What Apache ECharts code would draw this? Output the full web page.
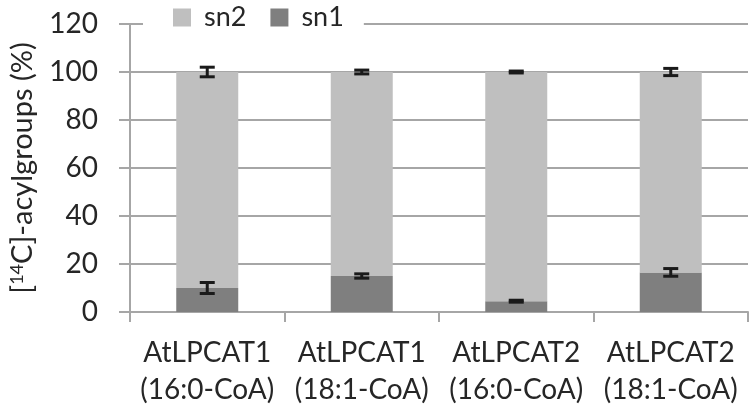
<!DOCTYPE html>
<html><head><meta charset="utf-8">
<script src="https://cdn.jsdelivr.net/npm/echarts@6/dist/echarts.min.js"></script>
<style>html,body{margin:0;padding:0;background:#fff}#c{width:750px;height:412px}</style>
</head><body><div id="c"></div>
<script>
var categories = ['AtLPCAT1\n(16:0-CoA)', 'AtLPCAT1\n(18:1-CoA)', 'AtLPCAT2\n(16:0-CoA)', 'AtLPCAT2\n(18:1-CoA)'];
var sn1 = [10, 15, 4.5, 16.5];
var sn2 = [90, 85, 95.5, 83.5];
var sn1Err = [2.3, 0.9, 0.4, 1.6];
var sn2Err = [2.0, 0.8, 0.4, 1.5];
var yTicks = [0, 20, 40, 60, 80, 100, 120];

var FONT = 'Lato';
var TXT = '#262626';
var FS = 28;
var errData = [];
for (var i = 0; i < categories.length; i++) {
  errData.push([i, sn1[i], sn1Err[i]]);
  errData.push([i, sn1[i] + sn2[i], sn2Err[i]]);
}
var chart = echarts.init(document.getElementById('c'));
chart.setOption({
  animation: false,
  textStyle: {fontFamily: FONT},
  grid: {left: 125, right: 2, top: 24, bottom: 100, containLabel: false},
  legend: {
    data: ['sn2', 'sn1'], left: 143, top: 2, itemWidth: 18, itemHeight: 18, itemGap: 24,
    backgroundColor: '#fff', padding: [2, 20, 2, 30],
    textStyle: {fontSize: 27, color: TXT, fontFamily: FONT, padding: [0, 0, 0, 8]}, icon: 'rect'
  },
  xAxis: {
    type: 'category', data: categories,
    axisLine: {show: true, lineStyle: {color: '#a6a6a6', width: 2}},
    axisTick: {show: true, length: 10, lineStyle: {color: '#a6a6a6', width: 2}},
    axisLabel: {
      interval: 0, margin: 22,
      formatter: function (v) { return v.split('\n').map(function (s) { return '{a|' + s + '}'; }).join('\n'); },
      rich: {a: {fontSize: FS, color: TXT, lineHeight: 37, fontFamily: FONT}}
    }
  },
  yAxis: {
    type: 'value', min: yTicks[0], max: yTicks[yTicks.length - 1], interval: 20,
    name: '{a|[}{s|14}{a|C]-acylgroups (%)}', nameLocation: 'middle', nameGap: 92, nameRotate: 90,
    nameTextStyle: {rich: {a: {fontSize: 29, color: TXT, fontFamily: FONT}, s: {fontSize: 18, color: TXT, fontFamily: FONT, verticalAlign: 'top', padding: [0, 0, 12, 0]}}},
    axisLine: {show: true, lineStyle: {color: '#a6a6a6', width: 2}},
    axisTick: {show: true, length: 11, lineStyle: {color: '#a6a6a6', width: 2}},
    splitLine: {show: true, lineStyle: {color: '#a6a6a6', width: 2}},
    axisLabel: {fontSize: FS, color: TXT, margin: 32, fontFamily: FONT}
  },
  series: [
    {name: 'sn1', type: 'bar', stack: 't', data: sn1, barWidth: 62, itemStyle: {color: '#7f7f7f'}},
    {name: 'sn2', type: 'bar', stack: 't', data: sn2, barWidth: 62, itemStyle: {color: '#bfbfbf'}},
    {
      name: 'err', type: 'custom', data: errData, z: 10,
      encode: {x: 0, y: 1},
      renderItem: function (params, api) {
        var x = api.value(0), c = api.value(1), e = api.value(2);
        var top = api.coord([x, c + e]), bot = api.coord([x, c - e]);
        var w = 7.5;
        var st = {stroke: '#1a1a1a', lineWidth: 3};
        return {type: 'group', children: [
          {type: 'line', shape: {x1: top[0], y1: top[1], x2: bot[0], y2: bot[1]}, style: st},
          {type: 'line', shape: {x1: top[0] - w, y1: top[1], x2: top[0] + w, y2: top[1]}, style: st},
          {type: 'line', shape: {x1: bot[0] - w, y1: bot[1], x2: bot[0] + w, y2: bot[1]}, style: st}
        ]};
      }
    }
  ]
});
</script></body></html>
